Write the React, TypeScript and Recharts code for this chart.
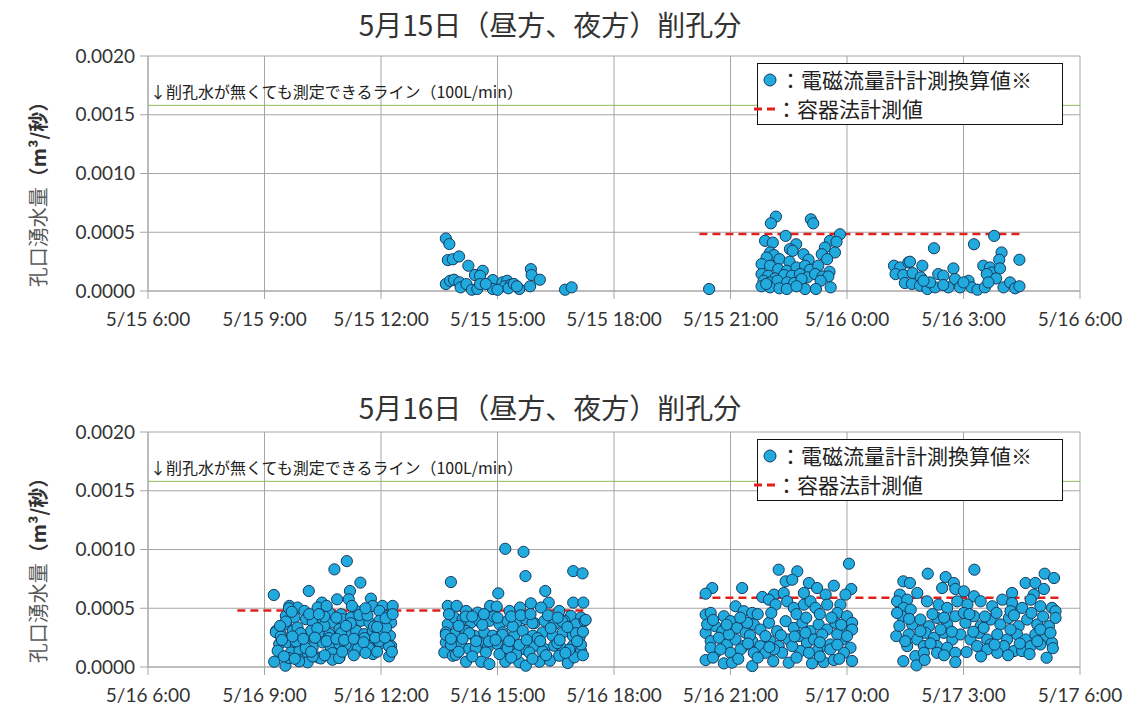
import React from 'react';
import { CartesianGrid, ReferenceLine, Scatter, ScatterChart, XAxis, YAxis } from 'recharts';

// x: hour counted from 0:00 of the panel's first day (24+ = next day), y: flow in L/s
const HOUR_TICKS = [6, 9, 12, 15, 18, 21, 24, 27, 30];
const FLOW_TICKS = [0, 0.0005, 0.001, 0.0015, 0.002];
const LINE_100L = 0.00158;

const may15Afternoon = [
    [13.67, 0.447], [13.76, 0.4], [13.72, 0.263], [13.85, 0.27], [14.01, 0.294], [14.25, 0.215], [14.42, 0.136],
    [14.62, 0.172], [14.55, 0.13], [13.67, 0.059], [13.78, 0.087], [13.88, 0.096], [14.02, 0.074], [14.05, 0.031],
    [14.2, 0.059], [14.34, 0.011], [14.48, 0.017], [14.55, 0.059], [14.88, 0.093], [14.88, 0.017], [15.13, 0.074],
    [15.25, 0.087], [15.19, 0.04], [15.34, 0.053], [15.28, 0.023], [15.56, 0.017], [15.86, 0.186], [15.88, 0.136],
    [16.09, 0.096], [15.84, 0.04], [16.74, 0.011], [16.91, 0.031], [14.7, 0.06], [15.0, 0.01], [15.42, 0.06], [15.5, 0.04],
];

const may15Night = [
    [20.45, 0.017],
    [22.17, 0.633], [22.04, 0.576], [23.07, 0.61], [23.13, 0.576], [22.42, 0.469], [23.82, 0.483], [21.89, 0.427],
    [22.09, 0.412], [22.69, 0.398], [22.53, 0.356], [22.6, 0.342], [23.56, 0.427], [23.73, 0.418], [23.43, 0.37],
    [23.69, 0.328], [22.02, 0.328], [22.12, 0.305], [21.93, 0.285], [22.26, 0.271], [22.52, 0.249], [22.88, 0.313],
    [23.01, 0.266], [23.35, 0.313], [23.49, 0.271], [21.8, 0.229], [22.02, 0.215], [22.23, 0.186], [22.45, 0.172],
    [22.7, 0.2], [22.92, 0.215], [23.05, 0.181], [23.26, 0.215], [23.55, 0.164], [21.8, 0.144], [21.97, 0.13],
    [22.15, 0.107], [22.38, 0.136], [22.58, 0.13], [22.79, 0.144], [22.98, 0.116], [23.18, 0.144], [23.37, 0.124],
    [23.52, 0.124], [21.85, 0.087], [22.02, 0.073], [22.21, 0.087], [22.46, 0.073], [22.64, 0.068], [22.83, 0.102],
    [23.32, 0.087], [21.8, 0.04], [22.02, 0.031], [22.26, 0.023], [22.45, 0.017], [22.92, 0.017], [23.2, 0.017],
    [23.58, 0.031], [21.92, 0.06], [22.7, 0.04],
];

const may16EarlyMorning = [
    [26.24, 0.364], [27.27, 0.398], [27.79, 0.469], [28.44, 0.266], [27.98, 0.328], [27.92, 0.266], [25.21, 0.215],
    [25.37, 0.2], [25.58, 0.243], [25.62, 0.249], [25.94, 0.215], [25.25, 0.144], [25.45, 0.136], [25.69, 0.153],
    [25.9, 0.116], [25.49, 0.068], [25.67, 0.06], [25.88, 0.045], [26.07, 0.017], [26.27, 0.031], [26.35, 0.144],
    [26.48, 0.13], [26.74, 0.192], [26.78, 0.102], [26.61, 0.031], [26.91, 0.031], [27.13, 0.087], [27.21, 0.031],
    [27.36, 0.011], [27.55, 0.031], [27.51, 0.215], [27.68, 0.2], [27.73, 0.158], [27.94, 0.192], [27.6, 0.144],
    [27.84, 0.107], [27.64, 0.073], [28.03, 0.031], [28.2, 0.073], [28.33, 0.023], [28.44, 0.04], [26.48, 0.051],
    [26.14, 0.073], [25.97, 0.087], [27.0, 0.073],
];

const may16Morning = [
    [9.24, 0.613], [10.14, 0.647], [10.8, 0.831], [11.12, 0.901], [11.47, 0.718], [11.2, 0.647], [11.17, 0.576],
    [10.87, 0.576], [10.48, 0.548], [11.74, 0.582], [9.64, 0.52], [9.85, 0.506], [10.03, 0.477], [10.37, 0.506],
    [10.67, 0.463], [10.97, 0.449], [11.36, 0.477], [11.79, 0.52], [12.04, 0.52], [12.3, 0.52], [11.96, 0.477],
    [12.17, 0.435], [9.55, 0.435], [9.77, 0.421], [10.07, 0.407], [10.24, 0.384], [10.5, 0.407], [10.76, 0.378],
    [11.01, 0.407], [11.23, 0.421], [11.48, 0.393], [11.7, 0.378], [11.96, 0.393], [12.26, 0.378], [9.55, 0.364],
    [9.3, 0.308], [9.42, 0.28], [9.73, 0.308], [9.94, 0.266], [10.2, 0.308], [10.43, 0.294], [10.67, 0.28],
    [10.93, 0.322], [11.14, 0.28], [11.36, 0.308], [11.57, 0.28], [11.79, 0.308], [12.0, 0.294], [12.23, 0.266],
    [9.85, 0.336], [10.54, 0.35], [12.13, 0.336], [9.38, 0.195], [9.6, 0.209], [9.81, 0.181], [10.03, 0.209],
    [10.24, 0.167], [10.5, 0.209], [10.71, 0.167], [10.93, 0.195], [11.18, 0.181], [11.4, 0.153], [11.7, 0.181],
    [11.96, 0.195], [12.26, 0.181], [9.34, 0.138], [9.68, 0.124], [9.9, 0.138], [10.11, 0.11], [10.37, 0.082],
    [10.76, 0.068], [10.93, 0.082], [11.79, 0.11], [12.21, 0.09], [9.25, 0.045], [9.54, 0.011], [9.9, 0.062],
    [10.11, 0.04], [10.45, 0.073], [9.29, 0.297], [9.42, 0.26], [9.55, 0.387], [9.63, 0.5], [9.81, 0.218],
    [9.93, 0.288], [10.06, 0.161], [10.24, 0.09], [10.36, 0.33], [10.54, 0.429], [10.66, 0.246], [10.75, 0.119],
    [10.97, 0.288], [11.09, 0.19], [11.22, 0.373], [11.44, 0.443], [11.57, 0.246], [11.69, 0.161], [11.82, 0.345],
    [11.95, 0.218], [12.12, 0.415], [12.21, 0.175], [9.63, 0.076], [9.89, 0.048], [10.75, 0.062], [10.92, 0.076],
    [9.45, 0.23], [9.72, 0.26], [10.0, 0.24], [10.3, 0.25], [10.6, 0.22], [10.85, 0.24], [11.05, 0.23],
    [11.3, 0.24], [11.55, 0.21], [11.85, 0.25], [12.1, 0.25], [9.5, 0.09], [9.78, 0.07], [10.2, 0.13],
    [10.55, 0.1], [11.0, 0.13], [11.3, 0.1], [11.6, 0.12], [11.9, 0.13], [12.28, 0.13], [9.4, 0.35],
    [9.7, 0.47], [10.15, 0.45], [10.4, 0.45], [10.85, 0.42], [11.1, 0.35], [11.65, 0.44], [11.9, 0.34],
    [12.3, 0.45], [10.6, 0.52], [11.25, 0.52], [11.6, 0.5],
];

const may16Afternoon = [
    [13.8, 0.723], [15.2, 1.006], [15.67, 0.98], [15.72, 0.774], [16.95, 0.816], [17.19, 0.797], [16.23, 0.647],
    [15.02, 0.627], [16.32, 0.548], [15.86, 0.542], [16.95, 0.548], [17.21, 0.548], [13.72, 0.52], [13.95, 0.52],
    [14.19, 0.477], [14.49, 0.463], [14.81, 0.52], [14.98, 0.514], [15.31, 0.477], [15.58, 0.506], [16.12, 0.506],
    [16.59, 0.477], [16.89, 0.435], [17.15, 0.421], [13.72, 0.364], [13.89, 0.421], [14.1, 0.407], [14.32, 0.378],
    [14.53, 0.393], [14.79, 0.393], [15.05, 0.364], [15.26, 0.393], [15.48, 0.378], [15.73, 0.407], [15.95, 0.373],
    [16.21, 0.393], [16.46, 0.364], [16.72, 0.393], [17.02, 0.364], [17.24, 0.393], [13.67, 0.294], [13.89, 0.28],
    [14.19, 0.308], [14.4, 0.266], [14.66, 0.294], [14.88, 0.266], [15.13, 0.294], [15.43, 0.266], [15.65, 0.308],
    [15.91, 0.266], [16.16, 0.294], [16.42, 0.266], [16.68, 0.294], [16.94, 0.266], [17.11, 0.251], [13.67, 0.209],
    [13.85, 0.181], [14.06, 0.195], [14.27, 0.153], [14.53, 0.209], [14.75, 0.167], [15.0, 0.195], [15.22, 0.153],
    [15.48, 0.181], [15.69, 0.153], [15.95, 0.181], [16.21, 0.153], [16.46, 0.181], [16.68, 0.153], [16.94, 0.181],
    [17.15, 0.138], [13.63, 0.124], [13.85, 0.096], [14.19, 0.045], [14.7, 0.124], [14.58, 0.045], [14.79, 0.025],
    [15.2, 0.045], [15.56, 0.04], [15.73, 0.011], [16.08, 0.045], [16.35, 0.054], [16.81, 0.034], [15.82, 0.124],
    [15.48, 0.11], [15.05, 0.11], [16.98, 0.082], [16.59, 0.096], [13.67, 0.274], [13.8, 0.189], [13.93, 0.104],
    [14.18, 0.43], [14.27, 0.288], [14.44, 0.161], [14.61, 0.359], [14.78, 0.218], [14.91, 0.43], [15.13, 0.274],
    [15.26, 0.161], [15.39, 0.345], [15.56, 0.189], [15.9, 0.373], [16.03, 0.246], [16.16, 0.133], [16.37, 0.331],
    [16.54, 0.203], [16.67, 0.387], [16.85, 0.147], [17.02, 0.288], [17.15, 0.189], [17.27, 0.401],
    [13.75, 0.45], [14.0, 0.35], [14.35, 0.43], [14.65, 0.45], [15.0, 0.42], [15.35, 0.43], [15.6, 0.44],
    [15.85, 0.45], [16.3, 0.44], [16.55, 0.42], [16.8, 0.34], [17.2, 0.3], [13.8, 0.24], [14.1, 0.24],
    [14.45, 0.22], [14.95, 0.23], [15.3, 0.22], [15.75, 0.23], [16.1, 0.22], [16.6, 0.23], [17.05, 0.22],
    [14.0, 0.13], [14.35, 0.09], [15.35, 0.08], [15.9, 0.07], [16.25, 0.1], [16.75, 0.12], [17.2, 0.1],
];

const may16Night = [
    [24.05, 0.879], [22.24, 0.828], [22.72, 0.814], [22.42, 0.729], [22.59, 0.743], [20.53, 0.672], [20.36, 0.624],
    [21.3, 0.672], [23.02, 0.715], [23.23, 0.672], [23.66, 0.692], [24.11, 0.664], [22.89, 0.63], [23.45, 0.616],
    [23.96, 0.616], [21.82, 0.596], [22.12, 0.616], [22.37, 0.63], [20.36, 0.446], [20.49, 0.46], [20.83, 0.432],
    [21.13, 0.517], [21.34, 0.475], [21.56, 0.46], [21.99, 0.573], [22.16, 0.531], [22.46, 0.559], [22.63, 0.503],
    [22.89, 0.531], [23.06, 0.559], [23.19, 0.503], [23.49, 0.531], [23.83, 0.531], [23.75, 0.46], [24.0, 0.432],
    [24.13, 0.376], [20.36, 0.291], [20.61, 0.347], [20.79, 0.305], [21.0, 0.39], [21.17, 0.333], [21.39, 0.291],
    [21.6, 0.362], [21.77, 0.319], [21.99, 0.376], [22.2, 0.305], [22.42, 0.39], [22.63, 0.333], [22.85, 0.376],
    [23.06, 0.305], [23.27, 0.362], [23.49, 0.319], [23.7, 0.376], [23.92, 0.305], [24.13, 0.319], [20.49, 0.22],
    [20.7, 0.249], [20.91, 0.192], [21.13, 0.234], [21.34, 0.178], [21.56, 0.22], [21.77, 0.178], [22.03, 0.22],
    [22.24, 0.178], [22.5, 0.234], [22.76, 0.263], [22.97, 0.206], [23.15, 0.234], [23.36, 0.178], [23.57, 0.192],
    [23.88, 0.234], [24.09, 0.164], [20.61, 0.121], [21.0, 0.121], [21.26, 0.15], [21.6, 0.121], [21.9, 0.121],
    [22.33, 0.121], [22.8, 0.136], [23.23, 0.136], [23.57, 0.15], [23.92, 0.121], [24.13, 0.051], [20.36, 0.059],
    [20.83, 0.031], [21.04, 0.037], [21.56, 0.008], [22.5, 0.037], [23.1, 0.031], [23.4, 0.042], [23.66, 0.059],
    [23.02, 0.121], [20.4, 0.362], [20.96, 0.277], [20.49, 0.164], [20.74, 0.15], [21.43, 0.376], [21.9, 0.263],
    [22.12, 0.15], [22.59, 0.178], [22.93, 0.291], [23.36, 0.277], [23.75, 0.277], [24.0, 0.263],
    [20.55, 0.4], [20.9, 0.36], [21.25, 0.42], [21.5, 0.27], [21.7, 0.45], [22.05, 0.46], [22.3, 0.27],
    [22.7, 0.45], [22.95, 0.42], [23.3, 0.45], [23.6, 0.42], [23.85, 0.36], [20.55, 0.08], [21.2, 0.07],
    [21.7, 0.08], [22.1, 0.05], [22.7, 0.08], [23.3, 0.09], [23.8, 0.07], [21.45, 0.2], [22.0, 0.17],
    [22.65, 0.26], [23.3, 0.21], [23.75, 0.19],
];

const may17EarlyMorning = [
    [26.08, 0.794], [27.28, 0.828], [29.09, 0.794], [29.33, 0.757], [25.45, 0.729], [25.62, 0.715], [26.54, 0.766],
    [26.75, 0.715], [28.6, 0.715], [28.85, 0.715], [26.45, 0.672], [26.79, 0.664], [29.07, 0.664], [25.81, 0.63],
    [25.36, 0.616], [27.01, 0.644], [27.27, 0.602], [28.25, 0.63], [28.81, 0.616], [25.29, 0.559], [25.55, 0.573],
    [25.46, 0.503], [25.42, 0.432], [25.64, 0.489], [26.06, 0.559], [26.36, 0.531], [26.58, 0.503], [26.84, 0.559],
    [27.1, 0.531], [27.44, 0.559], [27.74, 0.517], [28.0, 0.573], [28.25, 0.545], [28.51, 0.503], [28.73, 0.573],
    [28.98, 0.517], [29.28, 0.503], [29.37, 0.475], [25.68, 0.362], [25.89, 0.404], [26.11, 0.347], [26.32, 0.418],
    [26.58, 0.362], [26.79, 0.432], [27.05, 0.376], [27.27, 0.432], [27.44, 0.347], [27.7, 0.404], [27.95, 0.362],
    [28.17, 0.418], [28.42, 0.347], [28.64, 0.404], [28.9, 0.362], [29.2, 0.347], [29.37, 0.418], [25.59, 0.277],
    [25.81, 0.234], [26.02, 0.291], [26.24, 0.249], [26.49, 0.291], [26.71, 0.234], [26.92, 0.277], [27.18, 0.234],
    [27.4, 0.291], [27.61, 0.234], [27.87, 0.277], [28.12, 0.234], [28.38, 0.277], [28.6, 0.234], [28.85, 0.277],
    [29.11, 0.249], [25.27, 0.263], [25.55, 0.178], [25.76, 0.093], [25.79, 0.014], [25.98, 0.178], [26.32, 0.178],
    [26.58, 0.164], [26.79, 0.121], [26.79, 0.042], [27.08, 0.127], [27.35, 0.178], [27.7, 0.192], [28.04, 0.178],
    [28.3, 0.136], [28.51, 0.136], [28.73, 0.178], [28.98, 0.192], [29.28, 0.206], [29.14, 0.079], [25.98, 0.121],
    [26.32, 0.121], [27.61, 0.15], [27.87, 0.121], [25.29, 0.46], [25.89, 0.305], [26.41, 0.319], [27.52, 0.333],
    [28.21, 0.319], [28.98, 0.319], [29.24, 0.291], [27.01, 0.46], [28.21, 0.475],
    [25.35, 0.35], [25.6, 0.41], [26.2, 0.45], [26.5, 0.42], [27.15, 0.45], [27.55, 0.43], [27.85, 0.46],
    [28.3, 0.44], [28.75, 0.46], [29.05, 0.43], [25.5, 0.22], [26.15, 0.2], [26.7, 0.3], [27.25, 0.3],
    [27.8, 0.19], [28.45, 0.2], [28.9, 0.22], [29.3, 0.16], [26.0, 0.06], [26.5, 0.1], [27.45, 0.09],
    [28.15, 0.1], [28.7, 0.11], [25.45, 0.05],
];

// vessel method measurements: [start hour, end hour, flow L/s]
const may15Vessel = [[20.2, 28.45, 0.485]];
const may16Vessel = [[8.3, 17.3, 0.48], [20.2, 29.45, 0.59]];

const DOT_FILL = '#21aade';
const DOT_STROKE = '#163a5f';
const DASH_RED = '#e3211c';
const GRID = '#a6a6a6';
const CJK = '"Noto Sans CJK JP", "Noto Sans", sans-serif';

const toPoints = (list: number[][]) => list.map(([h, v]) => ({ t: h, q: v / 1000 }));

const Dot = (props: any) => (
    <circle cx={props.cx} cy={props.cy} r={5.6} fill={DOT_FILL} stroke={DOT_STROKE} strokeWidth={1} />
);

function LegendBox() {
    return (
        <div
            style={{
                position: 'absolute',
                left: 757,
                top: 63,
                width: 306,
                height: 62,
                boxSizing: 'border-box',
                border: '1.5px solid #111',
                background: '#fff',
                fontFamily: CJK,
                fontSize: 21,
                color: '#222',
                lineHeight: '29px',
                paddingTop: 1,
            }}
        >
            <div style={{ display: 'flex', alignItems: 'center' }}>
                <svg width={20} height={20} style={{ marginLeft: 2 }}>
                    <circle cx={10} cy={10} r={6} fill={DOT_FILL} stroke={DOT_STROKE} />
                </svg>
                <span>：電磁流量計計測換算値※</span>
            </div>
            <div style={{ display: 'flex', alignItems: 'center' }}>
                <svg width={24} height={20} style={{ marginLeft: -6 }}>
                    <line x1={2} y1={10} x2={24} y2={10} stroke={DASH_RED} strokeWidth={3} strokeDasharray="8 5" />
                </svg>
                <span>：容器法計測値</span>
            </div>
        </div>
    );
}

function FlowPanel({ top, titleTop, title, day, series, vessel }: {
    top: number;
    titleTop: number;
    title: string;
    day: number;
    series: number[][][];
    vessel: number[][];
}) {
    const fmtTime = (h: number) => `5/${day + Math.floor(h / 24)} ${h % 24}:00`;
    return (
        <div style={{ position: 'absolute', left: 0, top, width: 1127, height: 350 }}>
            <div
                style={{
                    position: 'absolute',
                    left: 0,
                    top: titleTop,
                    width: 1100,
                    textAlign: 'center',
                    fontFamily: CJK,
                    fontSize: 28,
                    lineHeight: '34px',
                    color: '#333',
                }}
            >
                {title}
            </div>
            <ScatterChart width={1127} height={350} margin={{ top: 56, right: 47, bottom: 16, left: 0 }}>
                <CartesianGrid stroke={GRID} />
                <XAxis
                    type="number"
                    dataKey="t"
                    domain={[6, 30]}
                    ticks={HOUR_TICKS}
                    interval={0}
                    tickFormatter={fmtTime}
                    height={43}
                    tickSize={8}
                    tickMargin={14}
                    axisLine={{ stroke: GRID }}
                    tickLine={{ stroke: GRID }}
                    tick={{ fill: '#333', fontSize: 19, fontFamily: 'Lato' }}
                />
                <YAxis
                    type="number"
                    dataKey="q"
                    domain={[0, 0.002]}
                    ticks={FLOW_TICKS}
                    interval={0}
                    tickFormatter={(v: number) => v.toFixed(4)}
                    width={148}
                    tickSize={8}
                    tickMargin={5}
                    axisLine={{ stroke: GRID }}
                    tickLine={{ stroke: GRID }}
                    tick={{ fill: '#333', fontSize: 19, fontFamily: 'Lato' }}
                    label={(p: any) => {
                        const vb = p.viewBox || { x: 0, y: 56, width: 148, height: 235 };
                        const cx = vb.x + 37;
                        const cy = vb.y + vb.height / 2 + 16;
                        return (
                            <text
                                x={cx}
                                y={cy}
                                transform={`rotate(-90 ${cx} ${cy})`}
                                textAnchor="middle"
                                dominantBaseline="central"
                                fontFamily={CJK}
                                fontSize={20}
                                fill="#595959"
                            >
                                孔口湧水量<tspan fontWeight="bold" fill="#333">（m³/秒）</tspan>
                            </text>
                        );
                    }}
                />
                <ReferenceLine y={LINE_100L} stroke="#8fba5a" strokeWidth={1} />
                {vessel.map(([t0, t1, v], i) => (
                    <ReferenceLine
                        key={i}
                        segment={[{ x: t0, y: v / 1000 }, { x: t1, y: v / 1000 }]}
                        stroke={DASH_RED}
                        strokeWidth={2.5}
                        strokeDasharray="8 5"
                    />
                ))}
                {series.map((s, i) => (
                    <Scatter key={i} data={toPoints(s)} shape={Dot} isAnimationActive={false} />
                ))}
            </ScatterChart>
            <div
                style={{
                    position: 'absolute',
                    left: 150,
                    top: 81,
                    fontFamily: CJK,
                    fontSize: 16,
                    lineHeight: '20px',
                    color: '#222',
                    whiteSpace: 'nowrap',
                }}
            >
                ↓削孔水が無くても測定できるライン（100L/min）
            </div>
            <LegendBox />
        </div>
    );
}

export default function App() {
    return (
        <div style={{ position: 'absolute', left: 0, top: 0, width: 1127, height: 706, background: '#fff' }}>
            <FlowPanel
                top={0}
                titleTop={7}
                title="5月15日（昼方、夜方）削孔分"
                day={15}
                series={[may15Afternoon, may15Night, may16EarlyMorning]}
                vessel={may15Vessel}
            />
            <FlowPanel
                top={376}
                titleTop={14}
                title="5月16日（昼方、夜方）削孔分"
                day={16}
                series={[may16Morning, may16Afternoon, may16Night, may17EarlyMorning]}
                vessel={may16Vessel}
            />
        </div>
    );
}
